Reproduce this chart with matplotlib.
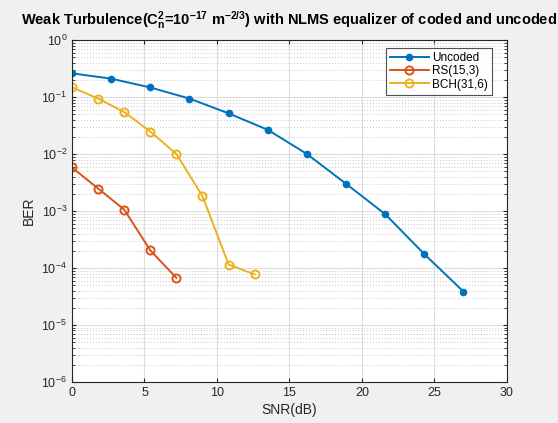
import matplotlib
matplotlib.use("Agg")
import matplotlib.pyplot as plt
from matplotlib.ticker import LogLocator, NullFormatter

# SNR (dB) and bit error rate for each scheme
snr_uncoded = [0, 2.7, 5.4, 8.1, 10.8, 13.5, 16.2, 18.9, 21.6, 24.3, 27.0]
ber_uncoded = [0.26, 0.21, 0.147, 0.094, 0.0516, 0.0266, 0.0100, 0.0030, 0.00088, 1.75e-4, 3.85e-5]

snr_rs = [0, 1.8, 3.6, 5.4, 7.2]
ber_rs = [0.0058, 0.00248, 0.00106, 2.04e-4, 6.7e-5]

snr_bch = [0, 1.8, 3.6, 5.4, 7.2, 9.0, 10.8, 12.6]
ber_bch = [0.148, 0.094, 0.0544, 0.0248, 0.0100, 0.00182, 1.15e-4, 7.7e-5]

labels = ["Uncoded", "RS(15,3)", "BCH(31,6)"]
colors = ["#0072BD", "#D95319", "#EDB120"]

x_ticks = [0, 5, 10, 15, 20, 25, 30]

plt.rcParams["font.family"] = ["Liberation Sans", "DejaVu Sans"]
plt.rcParams["mathtext.fontset"] = "custom"
plt.rcParams["mathtext.rm"] = "Liberation Sans"
plt.rcParams["mathtext.it"] = "Liberation Sans:italic"
plt.rcParams["mathtext.bf"] = "Liberation Sans:bold"
plt.rcParams["mathtext.default"] = "regular"

fig = plt.figure(figsize=(5.58, 4.23), dpi=100, facecolor="#F0F0F0")
ax = fig.add_axes([0.129, 0.097, 0.7796, 0.8084])
ax.set_facecolor("white")

ax.plot(snr_uncoded, ber_uncoded, "-o", color=colors[0], lw=1.4, ms=4.5,
        mfc=colors[0], mec=colors[0], label=labels[0])
ax.plot(snr_rs, ber_rs, "-o", color=colors[1], lw=1.4, ms=5.8,
        mfc="none", mec=colors[1], mew=1.4, label=labels[1])
ax.plot(snr_bch, ber_bch, "-o", color=colors[2], lw=1.4, ms=5.8,
        mfc="none", mec=colors[2], mew=1.4, label=labels[2])

ax.set_yscale("log")
ax.set_xlim(0, 30)
ax.set_ylim(1e-6, 1)
ax.set_xticks(x_ticks)
ax.yaxis.set_major_locator(LogLocator(base=10, numticks=10))
ax.yaxis.set_minor_locator(LogLocator(base=10, subs=range(2, 10), numticks=20))
ax.yaxis.set_minor_formatter(NullFormatter())

ax.grid(True, which="major", color="#DCDCDC", lw=0.8)
ax.grid(True, which="minor", axis="y", color="#C8C8C8", lw=0.7, ls=(0, (1, 2)))
ax.set_axisbelow(True)

for s in ax.spines.values():
    s.set_color("#262626")
    s.set_linewidth(0.8)
ax.tick_params(which="both", direction="in", top=True, right=True,
               colors="#262626", labelsize=9, labelcolor="#262626")
ax.tick_params(which="major", length=3)
ax.tick_params(which="minor", length=2)

ax.set_xlabel("SNR(dB)", fontsize=10, color="#262626", labelpad=3)
ax.set_ylabel("BER", fontsize=10, color="#262626", labelpad=4)
ax.set_title(r"Weak Turbulence(C$_\mathbf{n}^\mathbf{2}$=10$^\mathbf{-17}$ m$^\mathbf{-2/3}$) "
             r"with NLMS equalizer of coded and uncoded",
             fontsize=10.5, fontweight="bold", color="black", pad=11)

leg = ax.legend(loc="upper right", bbox_to_anchor=(0.966, 0.978), fontsize=8.5,
                frameon=True, fancybox=False, edgecolor="#262626",
                handlelength=3.3, borderpad=0.35, labelspacing=0.12, handletextpad=0.3,
                borderaxespad=0.0)
leg.get_frame().set_linewidth(0.8)

fig.savefig("out.png", dpi=100, facecolor=fig.get_facecolor())
